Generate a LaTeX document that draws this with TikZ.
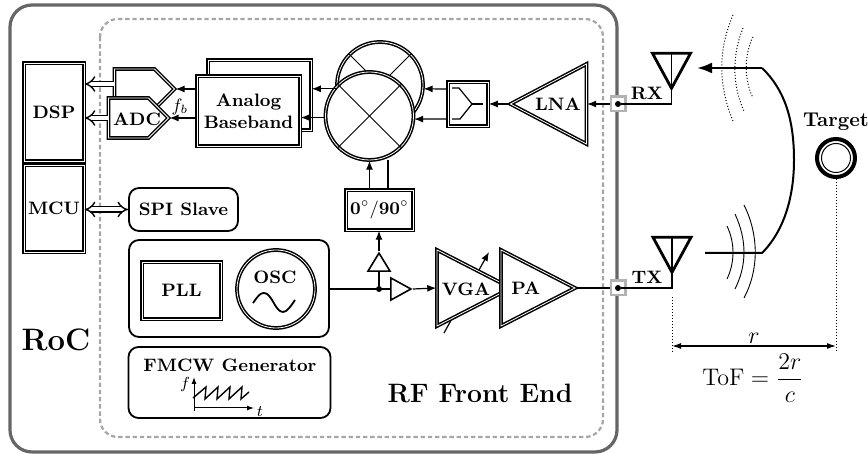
\documentclass[tikz,border=0pt]{standalone}
\usepackage{amsmath}
\usepackage{tikz}
\usetikzlibrary{shapes.geometric}
\usetikzlibrary{shapes.symbols}
\usetikzlibrary{arrows.meta}
\usetikzlibrary{calc}

\begin{document}
\begin{tikzpicture}[
        x=0.5pt,
        y=-0.5pt,
        defaultS/.style={
            line width=0.75pt,
            double,
            double distance=0.4pt,
            fill=white,
            align=center,
            inner sep=0pt,
            draw=black,
            font=\small\bfseries
        },
        boxS/.style={
            defaultS,
            rectangle
        },
        circleS/.style={
            defaultS,
            circle
        },
        signalS/.style={
            defaultS,
            signal,
            signal to=east,
            signal pointer angle=90,
            minimum width=30pt,
            minimum height=20pt
        },
        ampS/.style={
            defaultS,
            isosceles triangle,
            isosceles triangle stretches,
        },
        bufferS/.style={
            draw=black,
            fill=white,
            line width=0.8pt,
            inner sep=0pt,
            isosceles triangle,
            isosceles triangle stretches,
        },
        antennaS/.style={
            draw=black,
            line width=1.4pt,
            inner sep=0pt,
            isosceles triangle,
            isosceles triangle stretches,
            shape border rotate=-90,
            minimum width=19pt,
            minimum height=17.5pt
        },
        roundS/.style={
            draw=black,
            fill=white,
            line width=0.9pt,
            rounded corners=5pt,
            align=center,
            inner sep=0pt,
            font=\small\bfseries
        },
        portS/.style={
            draw=gray!60,
            fill=white,
            line width=1.2pt,
            minimum size=7.3pt,
            inner sep=0pt
        },
        dotS/.style={
            circle,
            fill=black,
            minimum size=3pt,
            inner sep=0pt
        },
        textS/.style={
            font=\small\bfseries,
            inner sep=0pt
        },
        arrowS/.style={
            line width=0.6pt,
            -{Latex[length=4.5pt,width=3.5pt]}
        },
        hollowS/.style={
            line width=0.7pt,
            double,
            double distance=2pt,
            -{Implies}
        },
        hollowBothS/.style={
            line width=0.7pt,
            double,
            double distance=2pt,
            {Implies}-{Implies}
        },
        lineS/.style={line width=0.6pt},
        waveS/.style={line width=0.45pt},
        fineS/.style={line width=0.5pt,dash pattern=on 0.5pt off 1pt},
    ]

    \useasboundingbox (0,0) rectangle (868,454);

    % frames
    \draw[black!60,line width=1.6pt,rounded corners=11pt] (10,5) rectangle (617,452);
    \draw[gray!70,line width=1.1pt,dash pattern=on 2.2pt off 1.4pt,rounded corners=9pt] (100,19) rectangle (603,437);

    % digital
    \node[boxS,minimum width=30pt,minimum height=49pt] (DSP) at (54,112) {DSP};
    \node[boxS,minimum width=30pt,minimum height=43.5pt] (MCU) at (54,208.5) {MCU};
    \node[roundS,minimum width=54.5pt,minimum height=21.5pt] (SPI) at (183.5,209.5) {SPI Slave};

    % receive chain, back first
    \node[signalS] (DAC) at (134.5,89) {};
    \node[signalS] (ADC) at (128.5,118) {};
    \node[textS] (ADCtext) at (137,119) {ADC};
    \node[boxS,minimum width=51.5pt,minimum height=35pt] (BBQ) at (259.5,95) {};
    \node[boxS,minimum width=51.5pt,minimum height=35pt] (BBI) at (248.5,111) {Analog\\Baseband};
    \node[circleS,minimum size=43pt] (MixQ) at (380,85) {};
    \draw[waveS] (MixQ.45) -- (MixQ.225);
    \draw[waveS] (MixQ.135) -- (MixQ.-45);
    \node[circleS,minimum size=44pt] (MixI) at (369.5,116) {};
    \draw[waveS] (MixI.45) -- (MixI.225);
    \draw[waveS] (MixI.135) -- (MixI.-45);
    \node[boxS,minimum width=20pt,minimum height=22pt] (Split) at (468,104) {};
    \draw[line width=0.6pt] (452,88) -- (459,88) -- (472,104) -- (460,119) -- (452,119);
    \draw[line width=0.6pt] (472,104) -- (483,104);
    \node[ampS,shape border rotate=180,minimum width=40pt,minimum height=38pt,anchor=apex] (LNA) at (508.5,104) {LNA};
    \node[boxS,minimum width=33.5pt,minimum height=20pt] (Phase) at (379.5,210) {$\mathbf{0^\circ/90^\circ}$};

    % transmit chain
    \node[roundS,minimum width=100pt,minimum height=48.5pt] (OSCbox) at (229,288.5) {};
    \node[boxS,minimum width=39.5pt,minimum height=28.5pt] (PLL) at (181.5,290.5) {PLL};
    \node[circleS,minimum size=39pt] (OSC) at (276,289) {};
    \node[textS] (OSCtext) at (275,277) {OSC};
    \draw[line width=0.9pt] (253,303) .. controls (258,296) and (260,293) .. (264,293)
        .. controls (272,293) and (275,312) .. (283,312)
        .. controls (287,312) and (291,306) .. (295,300);
    \node[roundS,minimum width=101pt,minimum height=35.5pt] (FMCW) at (229.5,382.5) {};
    \node[textS] (FMCWtext) at (230,365) {FMCW Generator};

    \coordinate (Origin) at (194,408);
    \coordinate (Fend) at (194,377);
    \coordinate (Tend) at (254,408);
    \draw[line width=0.5pt,-{Latex[length=3.5pt,width=2.5pt]}] (194,411) -- (Fend);
    \draw[line width=0.5pt,-{Latex[length=3.5pt,width=2.5pt]}] (Origin) -- (Tend);
    \node[inner sep=0pt,font=\footnotesize] (Ftext) at (185,384) {$f$};
    \node[inner sep=0pt,font=\footnotesize] (Ttext) at (260,412) {$t$};
    \draw[line width=0.7pt] (193,398) -- (206,387) -- (205,399) -- (218,387) -- (217,399) -- (230,387) -- (229,399) -- (242,387) -- (241,399) -- (249,392);

    \node[bufferS,shape border rotate=90,minimum width=11pt,minimum height=9pt,anchor=apex] (BufUp) at (379,251) {};
    \node[bufferS,minimum width=11pt,minimum height=10pt,anchor=apex] (BufRight) at (413,289) {};
    \node[dotS] (Junction) at (379,289) {};

    \coordinate (GainLow) at (444,333);
    \coordinate (GainHigh) at (489,252);
    \draw[arrowS] (GainLow) -- (GainHigh);
    \node[ampS,minimum width=38pt,minimum height=37pt,anchor=apex] (VGA) at (513,288) {};
    \node[textS] (VGAtext) at (466,289) {VGA};
    \node[ampS,minimum width=38pt,minimum height=37pt,anchor=apex] (PA) at (577,288) {PA};

    % ports and antennas
    \node[portS] (RXport) at (618,104) {};
    \node[portS] (TXport) at (618,288) {};
    \node[dotS] (RXdot) at (618,104) {};
    \node[dotS] (TXdot) at (618,288) {};
    \node[antennaS,anchor=apex] (RXant) at (671.5,92) {};
    \node[antennaS,anchor=apex] (TXant) at (672,276) {};
    \node[textS] (RXtext) at (647,93) {RX};
    \node[textS] (TXtext) at (647,277) {TX};

    % target
    \node[draw=black,fill=white,circle,line width=2pt,minimum size=19pt,inner sep=0pt] (Target) at (836,158) {};
    \draw[line width=0.5pt] (Target.center) circle (14.5);
    \node[font=\normalsize\bfseries,inner sep=0pt] (Targettext) at (836,122) {Target};

    % labels
    \node[font=\fontsize{15.5}{18}\selectfont\bfseries,inner sep=0pt] (RoC) at (56,340) {RoC};
    \node[font=\fontsize{13.3}{16}\selectfont\bfseries,inner sep=0pt] (RFtext) at (480,393) {RF Front End};
    \node[inner sep=0pt,font=\small] (fb) at (180,107) {$f_b$};

    % connectors
    \draw[arrowS] (RXport.west) -- (LNA.lower side);
    \draw[arrowS] (LNA.apex) -- (Split.east);
    \draw[arrowS] ([yshift=7.5pt]Split.west) -- (MixQ.-5);
    \draw[arrowS] ([yshift=-7.5pt]Split.west) -- (MixI.-4);
    \draw[arrowS] (MixQ.185) -- (MixQ.185 -| BBQ.east);
    \draw[arrowS] (MixI.182) -- (MixI.182 -| BBI.east);
    \draw[arrowS] (DAC.east -| BBI.west) -- (DAC.east);
    \draw[arrowS] (ADC.east -| BBI.west) -- (ADC.east);
    \draw[hollowS] (DAC.west |- 0,84) -- (DSP.east |- 0,84);
    \draw[hollowS] (ADC.west) -- (DSP.east |- ADC.west);
    \draw[hollowBothS] (MCU.east |- SPI.west) -- (SPI.west);
    \draw[arrowS] (Phase.north -| MixI) -- (MixI.south);
    \draw[lineS] (Phase.north -| 388,0) -- (388,160);
    \draw[lineS] (OSCbox.east |- Junction) -- (BufRight.lower side);
    \draw[lineS] (Junction) -- (BufUp.lower side);
    \draw[arrowS] (BufUp.apex) -- (Phase.south -| BufUp.apex);
    \draw[arrowS] (BufRight.apex) -- (VGA.lower side);
    \draw[lineS] (PA.apex) -- (TXport.west);
    \draw[lineS] (RXdot) -| (RXant.apex);
    \draw[lineS] (TXdot) -| (TXant.apex);
    \draw[lineS] (RXant.lower side) -- (RXant.apex);
    \draw[lineS] (TXant.lower side) -- (TXant.apex);

    % waves
    \coordinate (TXstart) at (705,253);
    \coordinate (TXbend) at (762,253);
    \coordinate (RXbend) at (762,68);
    \coordinate (RXend) at (697,68);
    \draw[line width=1pt] (TXstart) -- (TXbend)
        .. controls (785,230) and (794,195) .. (794,160)
        .. controls (794,120) and (785,90) .. (RXbend);
    \draw[line width=1.2pt,-{Latex[length=7.5pt,width=5.5pt]}] (RXbend) -- (RXend);
    \draw[waveS] (727,226) .. controls (735,243) and (735,262) .. (727,279);
    \draw[waveS] (735,214) .. controls (747,240) and (747,265) .. (735,289);
    \draw[waveS] (744,205) .. controls (759,235) and (759,270) .. (744,298);
    \draw[fineS] (733,15) .. controls (718,50) and (718,85) .. (733,121);
    \draw[fineS] (743,28) .. controls (732,55) and (732,85) .. (744,111);
    \draw[fineS] (753,37) .. controls (744,55) and (744,80) .. (753,98);

    % distance
    \coordinate (Rleft) at (672,346);
    \coordinate (Rright) at (836,346);
    \draw[fineS] (TXant.apex |- 0,297) -- (TXant.apex |- 0,353);
    \draw[fineS] (Target.south) -- (Target.south |- 0,353);
    \draw[line width=0.6pt,{Latex[length=4.5pt,width=3pt]}-{Latex[length=4.5pt,width=3pt]}] (Rleft) -- node[midway,above=1pt,inner sep=0pt,font=\fontsize{11.5}{14}\selectfont] {$r$} (Rright);
    \node[inner sep=0pt,font=\fontsize{11.5}{14}\selectfont] (ToF) at (753,378) {$\mathrm{ToF}=\dfrac{2r}{c}$};
\end{tikzpicture}
\end{document}
